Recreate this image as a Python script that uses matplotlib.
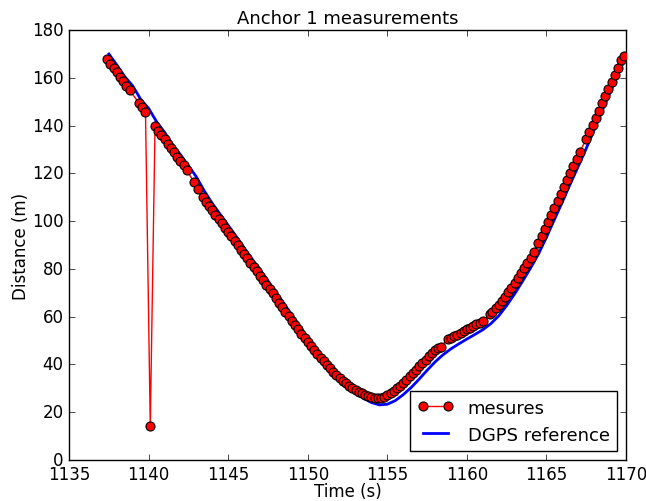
import matplotlib
matplotlib.use("Agg")
from matplotlib import pyplot as plt

# mesures (time s, distance m)
meas_time = [1137.4, 1137.6, 1137.8, 1138.0, 1138.2, 1138.4, 1138.6, 1138.8,
             1139.4, 1139.6, 1139.8,
             1140.1,
             1140.4, 1140.6, 1140.8, 1141.0, 1141.2, 1141.4, 1141.6, 1141.8, 1142.0, 1142.2, 1142.4,
             1142.85, 1143.1,
             1143.4, 1143.6, 1143.8, 1144.0, 1144.2, 1144.4, 1144.6, 1144.8, 1145.0, 1145.2,
             1145.4, 1145.6, 1145.8, 1146.0, 1146.2, 1146.4, 1146.6, 1146.8, 1147.0, 1147.2,
             1147.4, 1147.6, 1147.8, 1148.0, 1148.2, 1148.4, 1148.6, 1148.8, 1149.0, 1149.2,
             1149.4, 1149.6, 1149.8, 1150.0, 1150.2, 1150.4, 1150.6, 1150.8, 1151.0, 1151.2,
             1151.4, 1151.6, 1151.8, 1152.0, 1152.2, 1152.4, 1152.6, 1152.8, 1153.0, 1153.2,
             1153.4, 1153.6, 1153.8, 1154.0, 1154.2, 1154.4, 1154.6, 1154.8, 1155.0, 1155.2,
             1155.4, 1155.6, 1155.8, 1156.0, 1156.2, 1156.4, 1156.6, 1156.8, 1157.0, 1157.2,
             1157.4, 1157.6, 1157.8, 1158.0, 1158.2, 1158.35,
             1158.8, 1159.0, 1159.2, 1159.4, 1159.6, 1159.8, 1160.0, 1160.2, 1160.4, 1160.6,
             1160.8, 1161.0,
             1161.45, 1161.6, 1161.8, 1162.0, 1162.2, 1162.4, 1162.6, 1162.8, 1163.0, 1163.2,
             1163.4, 1163.6, 1163.8, 1164.0, 1164.2,
             1164.5, 1164.7, 1164.9, 1165.1, 1165.3, 1165.5, 1165.7, 1165.9, 1166.1, 1166.3,
             1166.5, 1166.7, 1166.9, 1167.1,
             1167.5, 1167.7, 1167.9, 1168.1, 1168.3, 1168.5, 1168.7, 1168.9, 1169.1, 1169.3,
             1169.5, 1169.7, 1169.85]
meas_dist = [167.8, 166.0, 164.1, 162.3, 160.4, 158.5, 156.6, 154.8,
             149.4, 147.6, 145.8,
             14.3,
             139.8, 137.9, 136.1, 134.3, 132.4, 130.6, 128.8, 126.9, 125.1, 123.3, 121.2,
             116.4, 113.4,
             110.0, 108.2, 106.4, 104.5, 102.7, 100.9, 99.0, 97.2, 95.4, 93.6,
             91.8, 90.0, 88.1, 86.3, 84.5, 82.6, 80.8, 79.0, 77.1, 75.3,
             73.4, 71.6, 69.7, 67.8, 65.9, 64.0, 62.1, 60.2, 58.3, 56.5,
             54.7, 52.9, 51.1, 49.4, 47.7, 46.0, 44.4, 42.8, 41.2, 39.7,
             38.3, 36.9, 35.6, 34.4, 33.2, 32.1, 31.1, 30.2, 29.3, 28.6,
             27.9, 27.3, 26.8, 26.4, 26.1, 25.9, 26.0, 26.4, 27.0, 27.8,
             28.8, 29.9, 31.1, 32.3, 33.6, 35.0, 36.4, 37.8, 39.2, 40.6,
             42.0, 43.4, 44.6, 45.8, 46.8, 47.4,
             50.6, 51.2, 51.9, 52.5, 53.2, 53.9, 54.6, 55.3, 56.0, 56.8,
             57.5, 58.2,
             61.1, 62.1, 63.5, 65.0, 66.6, 68.3, 70.1, 72.0, 74.0, 76.0,
             78.1, 80.3, 82.5, 84.6, 87.0,
             91.0, 93.9, 96.8, 99.7, 102.6, 105.5, 108.4, 111.3, 114.2, 117.1,
             120.0, 123.0, 126.0, 129.0,
             134.4, 137.3, 140.3, 143.3, 146.3, 149.3, 152.3, 155.3, 158.3, 161.3,
             164.3, 167.3, 169.0]

# DGPS reference
ref_time = [1137.5, 1138.0, 1138.5, 1139.0, 1139.5, 1140.0, 1140.5, 1141.0, 1141.5, 1142.0,
            1142.5, 1143.0, 1143.5, 1144.0, 1144.5, 1145.0, 1145.5, 1146.0, 1146.5, 1147.0,
            1147.5, 1148.0, 1148.5, 1149.0, 1149.5, 1150.0, 1150.5, 1151.0, 1151.5, 1152.0,
            1152.5, 1153.0, 1153.5, 1154.0, 1154.5, 1155.0, 1155.5, 1156.0, 1156.5, 1157.0,
            1157.5, 1158.0, 1158.5, 1159.0, 1159.5, 1160.0, 1160.5, 1161.0, 1161.5, 1162.0,
            1162.5, 1163.0, 1163.5, 1164.0, 1164.5, 1165.0, 1165.5, 1166.0, 1166.5, 1167.0,
            1167.5, 1168.0, 1168.5, 1169.0, 1169.5, 1169.9]
ref_dist = [170.0, 165.4, 160.5, 156.6, 151.0, 147.2, 141.6, 137.2, 132.0, 127.8,
            123.2, 118.5, 112.6, 107.4, 102.8, 98.2, 93.6, 88.8, 84.1, 79.7,
            75.0, 70.2, 65.5, 60.7, 55.9, 51.0, 46.3, 41.6, 37.4, 33.8,
            30.6, 28.0, 25.8, 24.0, 23.0, 23.3, 24.8, 27.3, 30.3, 33.8,
            37.5, 41.0, 44.0, 46.5, 48.6, 50.6, 52.5, 54.5, 57.0, 60.3,
            64.6, 69.5, 74.8, 80.3, 86.2, 93.2, 100.6, 108.0, 115.6, 122.9,
            130.4, 138.2, 146.2, 153.8, 161.5, 167.4]

plt.style.use("classic")
fig = plt.figure(figsize=(6.46, 5.02), dpi=100, facecolor="white")
ax = fig.add_axes([0.107, 0.082, 0.862, 0.856])

ax.plot(meas_time, meas_dist, "o-", color="red", markerfacecolor="red",
        markeredgecolor="black", markeredgewidth=0.8, markersize=6.5, linewidth=1,
        label="mesures", zorder=3)
ax.plot(ref_time, ref_dist, "-", color="blue", linewidth=2,
        label="DGPS reference", zorder=2)

ax.set_xlim(1135, 1170)
ax.set_ylim(0, 180)
ax.set_xticks(range(1135, 1171, 5))
ax.set_yticks(range(0, 181, 20))
ax.ticklabel_format(useOffset=False)
ax.set_xlabel("Time (s)", labelpad=-1)
ax.set_ylabel("Distance (m)", labelpad=1)
ax.set_title("Anchor 1 measurements", fontsize=13)
leg = ax.legend(loc="lower right", fontsize=13, numpoints=2)

fig.savefig("out.png", dpi=100, facecolor="white")
